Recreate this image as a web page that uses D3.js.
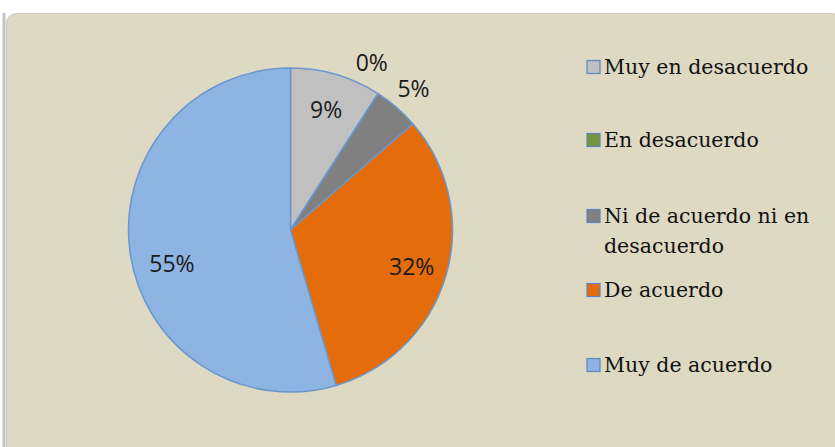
<!DOCTYPE html>
<html><head><meta charset="utf-8">
<script src="https://cdn.jsdelivr.net/npm/d3@7"></script>
<style>body{margin:0;background:#fff}svg{display:block}</style>
</head><body>
<svg id="c" width="835" height="447"></svg>
<script>
const categories = ["Muy en desacuerdo","En desacuerdo","Ni de acuerdo ni en desacuerdo","De acuerdo","Muy de acuerdo"];
const legendLines = [["Muy en desacuerdo"],["En desacuerdo"],["Ni de acuerdo ni en","desacuerdo"],["De acuerdo"],["Muy de acuerdo"]];
const counts = [2, 0, 1, 7, 12];
const colors = ["#C0C0C0","#77933C","#808080","#E46C0A","#8EB4E3"];

const svg = d3.select("#c");
svg.append("rect").attr("x",0).attr("y",0).attr("width",835).attr("height",447).attr("fill","#fff");
svg.append("line").attr("x1",4).attr("x2",4).attr("y1",13).attr("y2",447).attr("stroke","#C4C4C4").attr("stroke-width",3);
svg.append("rect").attr("x",6.5).attr("y",13.5).attr("width",836).attr("height",445).attr("rx",10)
  .attr("fill","#DDD9C3").attr("stroke","#C8C8C8").attr("stroke-width",1);

const cx = 290.5, cy = 230, R = 162;
const total = d3.sum(counts);
const pie = d3.pie().sort(null).value(d=>d)(counts);
const arc = d3.arc().innerRadius(0).outerRadius(R);
const g = svg.append("g").attr("transform",`translate(${cx},${cy})`);
g.selectAll("path").data(pie).join("path")
  .attr("d",arc).attr("fill",(d,i)=>colors[i])
  .attr("stroke","#6B97CC").attr("stroke-width",1.5).attr("stroke-linejoin","round");

const fmt = d3.format(".0%");
function pos(d){
  const inside = d.value/total > 0.07;
  let a = (d.startAngle+d.endAngle)/2;
  let r = inside ? R*0.78 : R*1.16;
  if (inside && d.value/total > 0.5) { a -= 0.13; r = R*0.76; }
  if (d.value===0) { a -= 0.12; r = R*1.15; }
  return [r*Math.sin(a), -r*Math.cos(a)];
}
g.selectAll("text.lbl").data(pie).join("text").attr("class","lbl")
  .attr("x",d=>pos(d)[0]).attr("y",d=>pos(d)[1])
  .attr("text-anchor","middle").attr("dominant-baseline","central")
  .attr("font-family","Open Sans, sans-serif").attr("font-size",23)
  .attr("fill","#1a1a1a")
  .text(d=>fmt(d.value/total));

const ly = [67,140,216,290,365];
const lg = svg.append("g");
legendLines.forEach((lines,i)=>{
  lg.append("rect").attr("x",587).attr("y",ly[i]-6.5).attr("width",13).attr("height",13)
    .attr("fill",colors[i]).attr("stroke","#5B86BF").attr("stroke-width",1.2);
  const t = lg.append("text").attr("x",604).attr("y",ly[i]).attr("dominant-baseline","central")
    .style("font-family","\"DejaVu Serif\", \"Liberation Serif\", serif").attr("font-size",20.5).attr("fill","#111");
  lines.forEach((l,j)=>{
    t.append("tspan").attr("x",604).attr("dy",j===0?0:30).text(l);
  });
});
</script>
</body></html>
